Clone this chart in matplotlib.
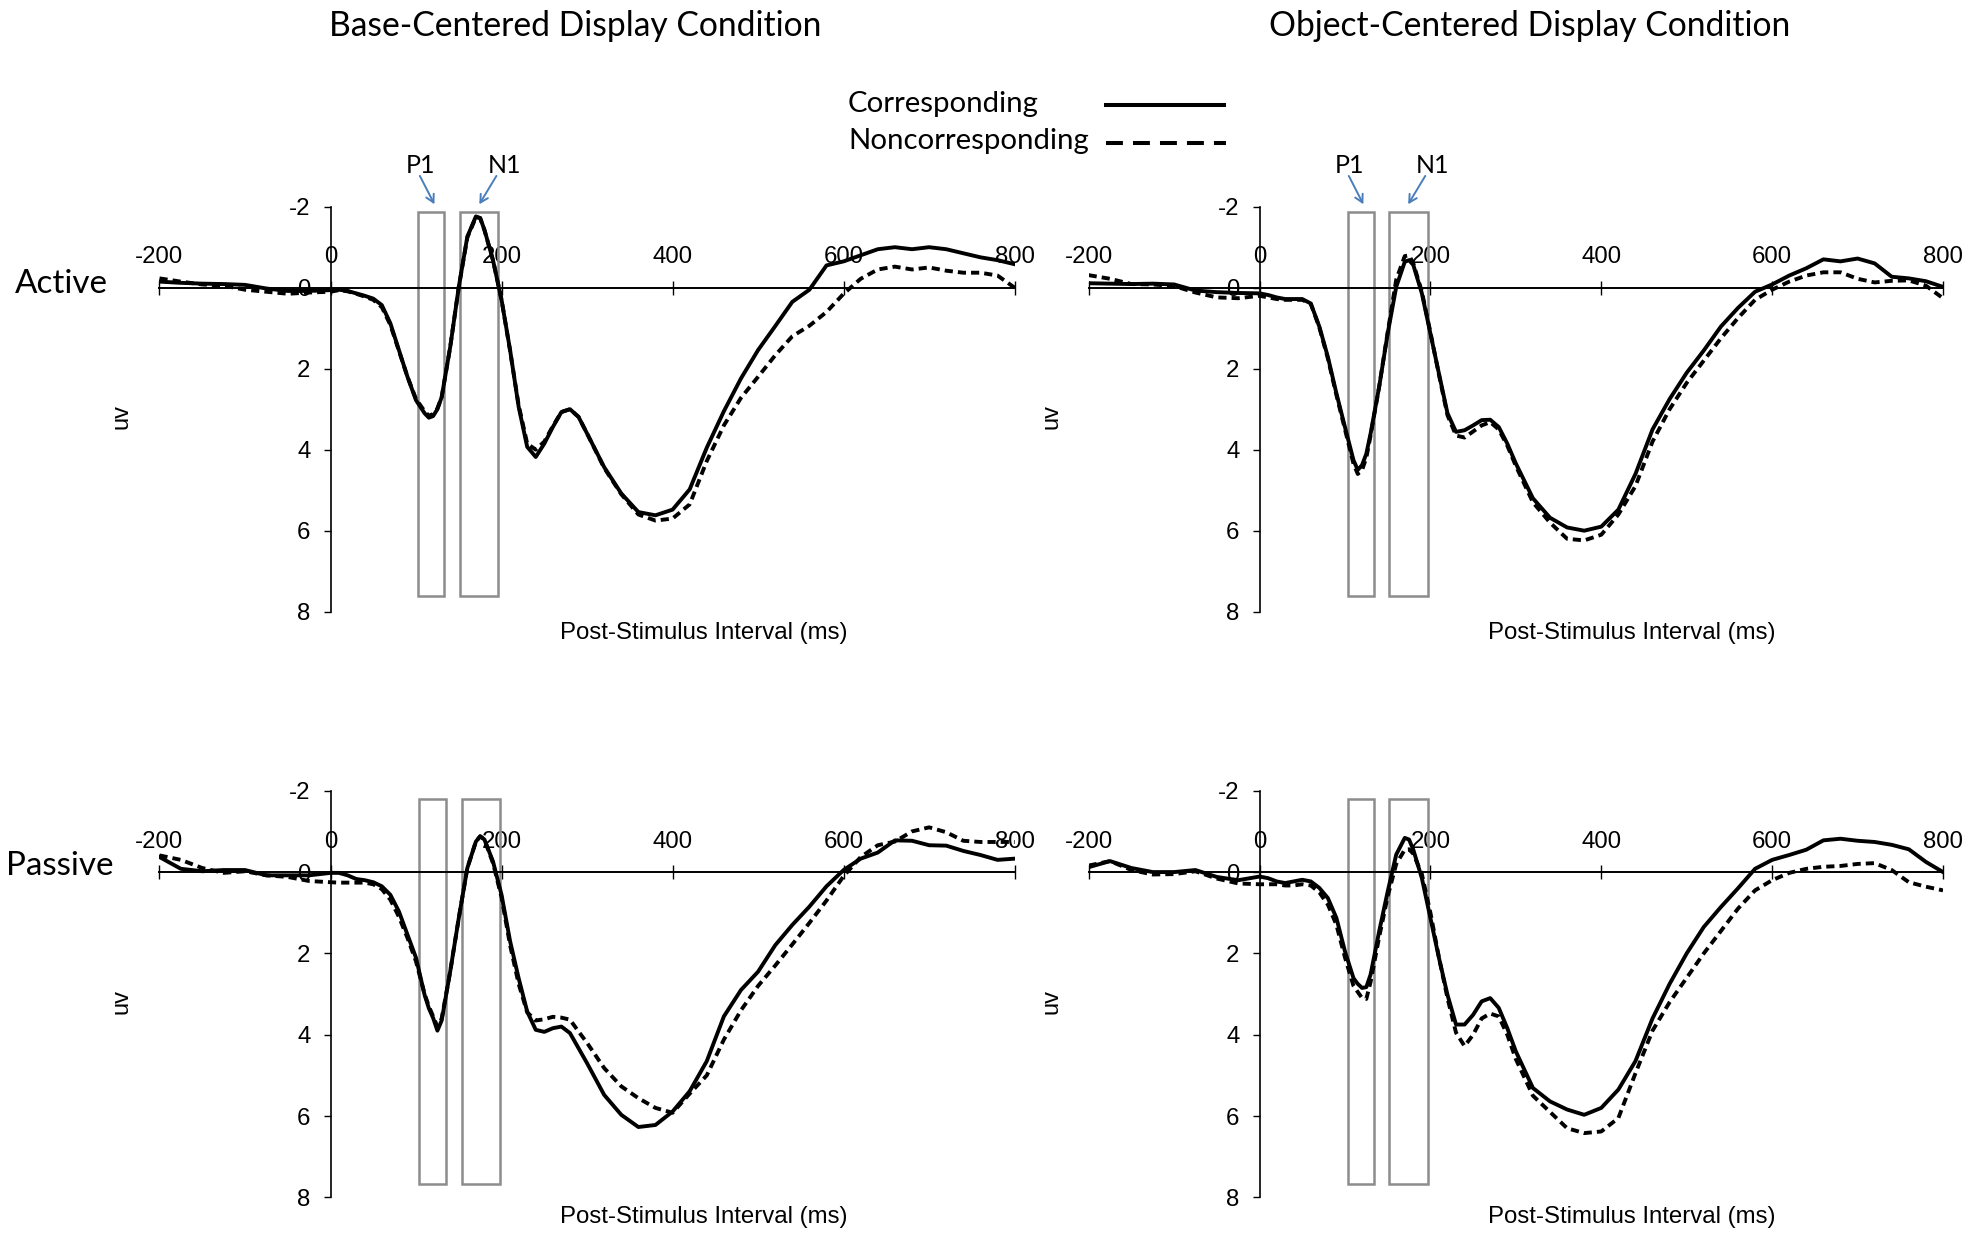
import matplotlib
matplotlib.use('Agg')
import matplotlib.pyplot as plt
from matplotlib.patches import Rectangle
from matplotlib.lines import Line2D

plt.rcParams['font.family'] = ['Liberation Sans', 'DejaVu Sans']
plt.rcParams['axes.unicode_minus'] = False
CALIBRI = ['Lato', 'DejaVu Sans']

# time points (ms) shared by all waveforms
times = [-200, -175, -150, -125, -100, -75, -50, -25,
         0, 10, 20, 30, 40, 50, 60, 70, 80, 90, 100, 110, 115, 120, 125, 130,
         140, 150, 160, 170, 175, 180, 190, 200, 210, 220, 230, 240, 250,
         260, 270, 280, 290, 300,
         320, 340, 360, 380, 400, 420, 440, 460, 480, 500, 520, 540, 560,
         580, 600, 620, 640, 660, 680, 700, 720, 740, 760, 780, 800]

# Active, base-centered
base_active_corr = [
    -0.15, -0.12, -0.10, -0.09, -0.07, 0.02, 0.08, 0.08,
    0.06, 0.05, 0.08, 0.14, 0.20, 0.27, 0.43, 0.88, 1.54, 2.20, 2.78, 3.10, 3.21, 3.17, 3.00, 2.70,
    1.46, -0.02, -1.26, -1.76, -1.72, -1.43, -0.68, 0.30, 1.54, 2.94, 3.93, 4.18, 3.85,
    3.44, 3.07, 3.00, 3.19, 3.60,
    4.43, 5.08, 5.54, 5.62, 5.48, 4.98, 3.95, 3.05, 2.24, 1.54, 0.95, 0.35, 0.05,
    -0.55, -0.65, -0.80, -0.95, -1.00, -0.95, -1.00, -0.95, -0.85, -0.75, -0.68, -0.58]
base_active_non = [
    -0.23, -0.15, -0.08, -0.05, 0.05, 0.10, 0.15, 0.12,
    0.10, 0.06, 0.09, 0.15, 0.22, 0.30, 0.48, 0.92, 1.56, 2.20, 2.75, 3.05, 3.16, 3.12, 2.98, 2.70,
    1.46, -0.02, -1.24, -1.74, -1.72, -1.42, -0.68, 0.30, 1.56, 2.90, 3.85, 4.00, 3.80,
    3.42, 3.07, 3.00, 3.19, 3.60,
    4.45, 5.10, 5.60, 5.75, 5.70, 5.35, 4.28, 3.40, 2.72, 2.20, 1.67, 1.20, 0.94,
    0.60, 0.15, -0.22, -0.45, -0.52, -0.45, -0.50, -0.42, -0.37, -0.37, -0.30, 0.00]

# Active, object-centered
obj_active_corr = [
    -0.11, -0.10, -0.09, -0.10, -0.08, 0.07, 0.11, 0.13,
    0.14, 0.18, 0.24, 0.28, 0.28, 0.28, 0.39, 0.96, 1.71, 2.61, 3.44, 4.26, 4.50, 4.38, 4.10, 3.60,
    2.45, 1.13, -0.02, -0.64, -0.68, -0.56, 0.14, 1.13, 2.12, 3.10, 3.56, 3.52, 3.40,
    3.27, 3.26, 3.44, 3.85, 4.34,
    5.20, 5.68, 5.92, 6.00, 5.90, 5.48, 4.60, 3.50, 2.75, 2.10, 1.55, 0.96, 0.50,
    0.10, -0.08, -0.30, -0.48, -0.70, -0.65, -0.72, -0.60, -0.27, -0.23, -0.16, -0.02]
obj_active_non = [
    -0.31, -0.22, -0.09, -0.08, -0.04, 0.12, 0.24, 0.26,
    0.20, 0.24, 0.28, 0.30, 0.30, 0.30, 0.40, 0.98, 1.75, 2.65, 3.50, 4.35, 4.60, 4.50, 4.20, 3.65,
    2.45, 1.10, -0.20, -0.78, -0.80, -0.60, 0.10, 1.10, 2.15, 3.15, 3.65, 3.70, 3.55,
    3.40, 3.32, 3.50, 3.90, 4.40,
    5.30, 5.80, 6.20, 6.24, 6.10, 5.60, 4.90, 3.80, 3.00, 2.35, 1.80, 1.25, 0.75,
    0.30, 0.05, -0.15, -0.30, -0.38, -0.38, -0.22, -0.13, -0.17, -0.18, -0.05, 0.26]

# Passive, base-centered
base_passive_corr = [
    -0.37, -0.08, -0.02, -0.05, -0.05, 0.08, 0.08, 0.08,
    0.02, 0.02, 0.08, 0.17, 0.20, 0.25, 0.35, 0.56, 0.97, 1.54, 2.11, 3.02, 3.35, 3.59, 3.90, 3.65,
    2.44, 1.13, -0.10, -0.75, -0.88, -0.80, -0.26, 0.56, 1.70, 2.61, 3.43, 3.88, 3.93,
    3.84, 3.80, 3.96, 4.33, 4.70,
    5.48, 5.97, 6.27, 6.22, 5.89, 5.39, 4.65, 3.55, 2.90, 2.45, 1.80, 1.30, 0.85,
    0.35, -0.05, -0.33, -0.48, -0.78, -0.77, -0.66, -0.65, -0.52, -0.42, -0.30, -0.33]
base_passive_non = [
    -0.41, -0.30, -0.10, 0.02, -0.02, 0.08, 0.12, 0.22,
    0.25, 0.26, 0.26, 0.26, 0.26, 0.30, 0.42, 0.68, 1.10, 1.62, 2.20, 3.00, 3.30, 3.55, 3.80, 3.60,
    2.44, 1.13, -0.10, -0.75, -0.88, -0.80, -0.22, 0.62, 1.80, 2.75, 3.45, 3.65, 3.62,
    3.56, 3.58, 3.63, 3.92, 4.20,
    4.82, 5.27, 5.56, 5.80, 5.92, 5.45, 5.00, 4.12, 3.40, 2.80, 2.30, 1.78, 1.25,
    0.70, 0.10, -0.37, -0.66, -0.75, -1.00, -1.10, -0.98, -0.77, -0.74, -0.74, -0.74]

# Passive, object-centered
obj_passive_corr = [
    -0.12, -0.27, -0.10, 0.00, 0.00, -0.05, 0.12, 0.20,
    0.11, 0.15, 0.23, 0.27, 0.23, 0.19, 0.23, 0.39, 0.64, 1.13, 1.95, 2.61, 2.75, 2.85, 2.83, 2.52,
    1.46, 0.48, -0.43, -0.84, -0.80, -0.55, 0.15, 1.13, 2.11, 3.02, 3.75, 3.75, 3.51,
    3.18, 3.10, 3.34, 3.84, 4.41,
    5.31, 5.64, 5.84, 5.97, 5.80, 5.35, 4.65, 3.60, 2.75, 2.00, 1.35, 0.86, 0.40,
    -0.08, -0.30, -0.42, -0.55, -0.78, -0.82, -0.77, -0.74, -0.67, -0.56, -0.25, 0.00]
obj_passive_non = [
    -0.16, -0.27, -0.05, 0.06, 0.05, -0.02, 0.16, 0.28,
    0.30, 0.30, 0.30, 0.33, 0.33, 0.30, 0.33, 0.50, 0.80, 1.30, 2.10, 2.80, 2.95, 3.10, 3.12, 2.70,
    1.60, 0.60, -0.20, -0.55, -0.56, -0.45, 0.05, 1.00, 2.10, 3.10, 3.95, 4.28, 4.00,
    3.60, 3.48, 3.55, 4.00, 4.60,
    5.50, 5.90, 6.30, 6.42, 6.38, 6.05, 4.95, 3.90, 3.20, 2.60, 2.00, 1.45, 0.90,
    0.45, 0.20, 0.02, -0.08, -0.13, -0.15, -0.20, -0.22, -0.05, 0.25, 0.36, 0.45]

# component windows (ms) marked by the grey boxes
p1_windows = [(102, 133), (103, 134), (104, 135.5), (103, 134)]
n1_windows = [(151, 196), (152, 197), (153.4, 198.6), (152, 197)]

fig = plt.figure(figsize=(19.69, 12.34), dpi=100)

panels = [
    ([0.0810, 0.5043, 0.4343, 0.3282], base_active_corr, base_active_non, (-1.87, 7.62), -0.052),
    ([0.5529, 0.5043, 0.4339, 0.3282], obj_active_corr, obj_active_non, (-1.87, 7.62), -0.052),
    ([0.0810, 0.0297, 0.4343, 0.3295], base_passive_corr, base_passive_non, (-1.80, 7.66), -0.048),
    ([0.5529, 0.0297, 0.4339, 0.3295], obj_passive_corr, obj_passive_non, (-1.80, 7.66), -0.048),
]

axes = []
for i, (rect, corr, non, (btop, bbot), xlab_y) in enumerate(panels):
    ax = fig.add_axes(rect)
    ax.plot(times, corr, color='black', lw=2.8, zorder=4)
    ax.plot(times, non, color='black', lw=2.8, dashes=(2.1, 1.3), zorder=4)
    for x0, x1 in (p1_windows[i], n1_windows[i]):
        ax.add_patch(Rectangle((x0, btop), x1 - x0, bbot - btop, fill=False,
                               edgecolor='#8c8c8c', lw=1.8, zorder=2))
    ax.set_xlim(-200, 800)
    ax.set_ylim(8, -2)
    ax.spines['top'].set_position(('data', 0))
    ax.spines['left'].set_position(('data', 0))
    ax.spines['right'].set_visible(False)
    ax.spines['bottom'].set_visible(False)
    ax.spines['top'].set_linewidth(1.4)
    ax.spines['left'].set_linewidth(1.2)
    ax.xaxis.set_ticks_position('top')
    ax.yaxis.set_ticks_position('left')
    ax.set_xticks([-200, 0, 200, 400, 600, 800])
    ax.set_yticks([-2, 0, 2, 4, 6, 8])
    ax.tick_params(axis='x', direction='inout', length=10, width=1, labelsize=17.3, pad=9)
    ax.tick_params(axis='y', direction='out', length=5, width=1, labelsize=17.3, pad=9.5)
    ax.set_ylabel('uv', fontsize=17, va='center')
    ax.yaxis.set_label_coords(-0.044, 0.482)
    ax.text(0.636, xlab_y, 'Post-Stimulus Interval (ms)', transform=ax.transAxes,
            ha='center', va='center', fontsize=17.3)
    axes.append(ax)

# P1 / N1 labels with arrows on the top row
for ax in axes[:2]:
    ax.text(105, -2.84, 'P1', ha='center', va='baseline', fontsize=18,
            family=CALIBRI, clip_on=False)
    ax.text(203, -2.84, 'N1', ha='center', va='baseline', fontsize=18,
            family=CALIBRI, clip_on=False)
    arrow = dict(arrowstyle='->,head_length=0.55,head_width=0.3', color='#4a7ebb', lw=1.4,
                 shrinkA=0, shrinkB=0)
    ax.annotate('', xy=(121.5, -2.06), xytext=(104.5, -2.76), arrowprops=arrow,
                annotation_clip=False)
    ax.annotate('', xy=(174, -2.06), xytext=(194, -2.76), arrowprops=arrow,
                annotation_clip=False)

title_l = fig.text(0.2921, 0.9705, 'Base-Centered Display Condition', ha='center',
                   va='baseline', fontsize=24, family=CALIBRI)
title_r = fig.text(0.7768, 0.9705, 'Object-Centered Display Condition', ha='center',
                   va='baseline', fontsize=24, family=CALIBRI)
active = fig.text(0.0312, 0.7628, 'Active', ha='center', va='baseline', fontsize=24,
                  family=CALIBRI)
passive = fig.text(0.0305, 0.2909, 'Passive', ha='center', va='baseline', fontsize=24,
                   family=CALIBRI)

# legend drawn as a text box with sample lines
leg1 = fig.text(0.4307, 1 - 111.7 / 1234, 'Corresponding', va='baseline', fontsize=22,
                family=CALIBRI)
leg2 = fig.text(0.4307, 1 - 149.3 / 1234, 'Noncorresponding', va='baseline', fontsize=22,
                family=CALIBRI)
fig.add_artist(Line2D([0.5617, 0.6216], [1 - 105 / 1234] * 2, transform=fig.transFigure,
                      color='black', lw=2.9))
fig.add_artist(Line2D([0.5617, 0.6226], [1 - 142.7 / 1234] * 2, transform=fig.transFigure,
                      color='black', lw=2.9, dashes=(4.2, 2.5)))

# scale the Calibri-like texts to the widths seen in the original
fig.canvas.draw()
r = fig.canvas.get_renderer()
def fit(txts, ref, width_px):
    scale = width_px / ref.get_window_extent(r).width
    for t in txts:
        t.set_fontsize(t.get_fontsize() * scale)

fit([title_l, title_r], title_r, 522)
fit([leg1, leg2], leg2, 240)
fit([active], active, 93)
fit([passive], passive, 108)

fig.savefig('out.png', dpi=100, facecolor='white')
